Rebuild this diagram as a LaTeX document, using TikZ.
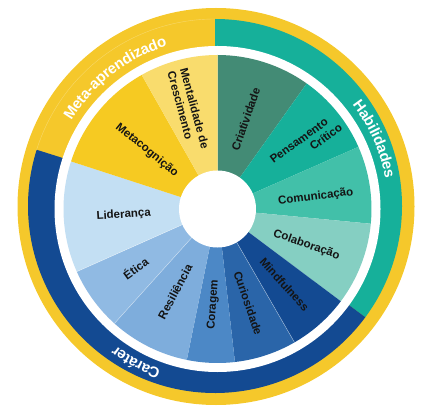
\documentclass[tikz,border=0pt]{standalone}
\usepackage{fontspec}
\setmainfont{Liberation Sans}
\usetikzlibrary{decorations.text}
\definecolor{rimY}{HTML}{F5C82B}
\definecolor{habT}{HTML}{16B09A}
\definecolor{carB}{HTML}{134A92}
\definecolor{wCri}{HTML}{438B75}
\definecolor{wPen}{HTML}{16B09A}
\definecolor{wCom}{HTML}{42C0A9}
\definecolor{wCol}{HTML}{85CFC2}
\definecolor{wMin}{HTML}{134A92}
\definecolor{wCur}{HTML}{2A65A9}
\definecolor{wCor}{HTML}{4C88C6}
\definecolor{wRes}{HTML}{7EADDC}
\definecolor{wEti}{HTML}{90BAE3}
\definecolor{wLid}{HTML}{C3DFF3}
\definecolor{wMet}{HTML}{F6CA22}
\definecolor{wMen}{HTML}{F9DC6D}
\begin{document}
\begin{tikzpicture}[x=1pt,y=1pt,
  lbl/.style={font=\fontsize{11.5}{13}\selectfont\bfseries, text=black!92, inner sep=0pt},
  seam/.style={white, opacity=0.45, line width=0.5pt}
]
\useasboundingbox (0,0) rectangle (422,407);
\coordinate (R) at (216,200.5);
\coordinate (B) at (215,201);
\coordinate (C) at (217.5,198);
% outer rim
\fill[rimY] (R) circle[radius=198.5];
% bands
\fill[habT] (B) -- ([shift={(90:187)}]B) arc[start angle=90,end angle=-36.5,radius=187] -- cycle;
\fill[carB] (B) -- ([shift={(-36.5:187)}]B) arc[start angle=-36.5,end angle=-197.5,radius=187] -- cycle;
\draw[white, opacity=0.3, line width=0.4pt] ([shift={(162.5:187)}]B) arc[start angle=162.5,end angle=90,radius=187];
% white gap
\fill[white] (C) circle[radius=163];
% wedges
\foreach \a/\b/\c in {90/54.6/wCri, 54.6/23.8/wPen, 23.8/-5.5/wCom, -5.5/-36.8/wCol, -36.8/-60/wMin, -60/-83.5/wCur, -83.5/-101.5/wCor, -101.5/-132/wRes, -132/-156/wEti, -156/-198/wLid, -198/-240.5/wMet, -240.5/-270/wMen}
  \fill[\c] (C) -- ([shift={(\a:154)}]C) arc[start angle=\a,end angle=\b,radius=154] -- cycle;
\foreach \a in {-60,-132,-156}
  \draw[seam] ([shift={(\a:38)}]C) -- ([shift={(\a:154)}]C);
% hole
\fill[white] (C) circle[radius=38.5];
% wedge labels
\node[lbl, rotate=71] (cri) at ([shift={(72.5:94)}]C) {Criatividade};
\node[lbl, rotate=36, align=right] (pen) at ([shift={(36.5:110)}]C) {Pensamento\hspace*{8pt}\\Crítico};
\node[lbl, rotate=7] (com) at ([shift={(7:99)}]C) {Comunicação};
\node[lbl, rotate=-19.5] (col) at ([shift={(-22:96)}]C) {Colaboração};
\node[lbl, rotate=-48] (min) at ([shift={(-48.4:101)}]C) {Mindfulness};
\node[lbl, rotate=-71] (cur) at ([shift={(-72:99)}]C) {Curiosidade};
\node[lbl, rotate=86] (cor) at ([shift={(-92.5:96)}]C) {Coragem};
\node[lbl, rotate=62] (res) at ([shift={(242.8:93)}]C) {Resiliência};
\node[lbl, rotate=35.5] (eti) at ([shift={(215.7:101)}]C) {Ética};
\node[lbl, rotate=3.5] (lid) at ([shift={(183.6:94)}]C) {Liderança};
\node[lbl, rotate=-39] (met) at ([shift={(140.2:92)}]C) {Metacognição};
\node[lbl, rotate=-75, align=left] (men) at ([shift={(106.4:103)}]C) {Mentalidade de\\Crescimento};
% band labels
\path[decorate, decoration={text along path, text align=center, raise=-5pt, text color=white,
  text={|\fontsize{15}{15}\selectfont\bfseries|Habilidades}}]
  ([shift={(64:175.5)}]C) arc[start angle=64,end angle=-16,radius=175.5];
\path[decorate, decoration={text along path, text align=center, raise=-5pt, text color=white,
  text={|\fontsize{15}{15}\selectfont\bfseries|Caráter}}]
  ([shift={(282:175.5)}]C) arc[start angle=282,end angle=202,radius=175.5];
\path[decorate, decoration={text along path, text align=center, raise=-5pt, text color=white,
  text={|\fontsize{15}{15}\selectfont\bfseries|Meta-aprendizado}}]
  ([shift={(173:175.5)}]C) arc[start angle=173,end angle=83,radius=175.5];
\end{tikzpicture}
\end{document}
